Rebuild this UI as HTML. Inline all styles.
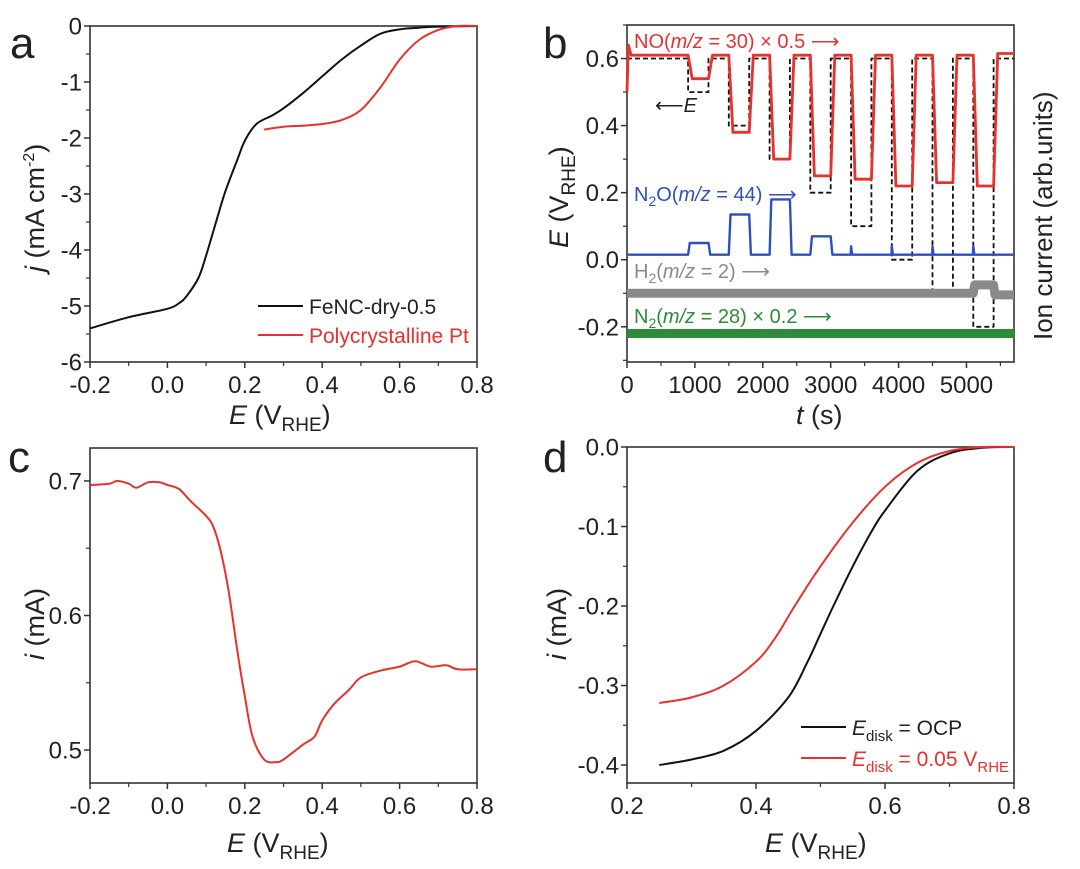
<!DOCTYPE html>
<html><head><meta charset="utf-8"><style>
body{margin:0;background:#fff;}
svg{display:block;font-family:"Liberation Sans",Arial,sans-serif;}
</style></head><body>
<svg id="fig" width="1080" height="869" viewBox="0 0 1080 869" xmlns="http://www.w3.org/2000/svg"></svg>
<script>
// ---- Panel a data ----
const aBlackE=[-0.2,-0.1,0,0.03,0.05,0.08,0.1,0.13,0.15,0.18,0.2,0.23,0.27,0.3,0.35,0.4,0.45,0.5,0.55,0.6,0.65,0.7,0.8];
const aBlackJ=[-5.4,-5.2,-5.05,-4.95,-4.82,-4.5,-4.1,-3.4,-2.95,-2.4,-2.05,-1.75,-1.6,-1.47,-1.2,-0.9,-0.6,-0.35,-0.14,-0.06,-0.03,-0.01,0];
const aRedE=[0.25,0.3,0.35,0.4,0.45,0.5,0.55,0.6,0.65,0.7,0.75,0.8];
const aRedJ=[-1.85,-1.8,-1.78,-1.75,-1.68,-1.5,-1.1,-0.6,-0.25,-0.07,0,0];
const aXTicks=[-0.2,0,0.2,0.4,0.6,0.8];
const aXLabels=["-0.2","0.0","0.2","0.4","0.6","0.8"];
const aYTicks=[0,-1,-2,-3,-4,-5,-6];
const aYLabels=["0","-1","-2","-3","-4","-5","-6"];
// ---- Panel b data ----
const bStepStart=[0,900,1200,1500,1800,2100,2400,2700,3000,3300,3600,3900,4200,4500,4800,5100,5400];
const bE=[0.6,0.5,0.6,0.4,0.6,0.3,0.6,0.2,0.6,0.1,0.6,0.0,0.6,-0.1,0.6,-0.2,0.6];
const bNO=[0.61,0.54,0.61,0.38,0.61,0.30,0.61,0.25,0.61,0.24,0.61,0.22,0.61,0.23,0.61,0.22,0.615];
const bN2O=[0.015,0.05,0.015,0.135,0.015,0.18,0.015,0.07,0.015,0.015,0.015,0.015,0.015,0.015,0.015,0.015,0.015];
const bN2OSpikeT=[3300,3900,4500,5100];
const bN2OSpikeV=[0.04,0.04,0.04,0.04];
const bH2=[-0.10,-0.10,-0.10,-0.10,-0.10,-0.10,-0.10,-0.10,-0.10,-0.10,-0.10,-0.10,-0.10,-0.10,-0.10,-0.075,-0.105];
const bN2=[-0.22,-0.22,-0.22,-0.22,-0.22,-0.22,-0.22,-0.22,-0.22,-0.22,-0.22,-0.22,-0.22,-0.22,-0.22,-0.22,-0.22];
const bXTicks=[0,1000,2000,3000,4000,5000];
const bYTicks=[0.6,0.4,0.2,0.0,-0.2];
const bYLabels=["0.6","0.4","0.2","0.0","-0.2"];
// ---- Panel c data ----
const cE=[-0.2,-0.15,-0.13,-0.1,-0.08,-0.05,-0.02,0,0.03,0.06,0.1,0.12,0.14,0.16,0.18,0.2,0.22,0.25,0.28,0.3,0.35,0.38,0.4,0.43,0.47,0.5,0.55,0.6,0.64,0.68,0.72,0.75,0.8];
const cI=[0.697,0.698,0.700,0.698,0.695,0.699,0.699,0.697,0.694,0.685,0.674,0.665,0.645,0.615,0.575,0.54,0.51,0.493,0.491,0.493,0.504,0.51,0.522,0.534,0.545,0.554,0.559,0.562,0.566,0.562,0.563,0.560,0.560];
const cYTicks=[0.7,0.6,0.5];
const cYLabels=["0.7","0.6","0.5"];
// ---- Panel d data ----
const dE=[0.25,0.3,0.35,0.4,0.45,0.48,0.5,0.52,0.55,0.58,0.6,0.65,0.7,0.75,0.8];
const dBlack=[-0.40,-0.393,-0.382,-0.357,-0.315,-0.27,-0.235,-0.2,-0.15,-0.105,-0.08,-0.03,-0.008,-0.001,0];
const dRedE=[0.25,0.3,0.35,0.4,0.43,0.46,0.5,0.55,0.6,0.65,0.7,0.75,0.8];
const dRed=[-0.322,-0.315,-0.3,-0.27,-0.24,-0.2,-0.15,-0.095,-0.05,-0.02,-0.005,0,0];
const dXTicks=[0.2,0.4,0.6,0.8];
const dYTicks=[0,-0.1,-0.2,-0.3,-0.4];
const dYLabels=["0.0","-0.1","-0.2","-0.3","-0.4"];

const NS="http://www.w3.org/2000/svg";
const svg=document.getElementById('fig');
function mk(tag,attrs,parent,text){const e=document.createElementNS(NS,tag);for(const k in attrs)e.setAttribute(k,attrs[k]);if(text!==undefined)e.textContent=text;(parent||svg).appendChild(e);return e;}
function scale(d0,d1,r0,r1){return v=>r0+(v-d0)/(d1-d0)*(r1-r0);}
function panel(name,x0,x1,y0,y1,xd,yd){
  const g=mk('g',{});
  
  
  const box=mk('rect',{x:x0,y:y0,width:x1-x0,height:y1-y0,fill:'none',stroke:'#333','stroke-width':1.6},g);
  
  
  return {g,X:scale(xd[0],xd[1],x0,x1),Y:scale(yd[0],yd[1],y1,y0),x0,x1,y0,y1};
}
function xAxis(p,ticks,labels,minor){
  const ax=mk('g',{},p.g);
  
  
  ticks.forEach((t,i)=>{const x=p.X(t);mk('line',{x1:x,x2:x,y1:p.y1,y2:p.y1+6,stroke:'#333','stroke-width':1.5},ax);
    const tx=mk('text',{x:x,y:p.y1+31,'text-anchor':'middle','font-size':24,fill:'#222'},ax,labels[i]);
    
    });
  (minor||[]).forEach(t=>{const x=p.X(t);mk('line',{x1:x,x2:x,y1:p.y1,y2:p.y1+4,stroke:'#333','stroke-width':1.2},ax);});
}
function yAxis(p,ticks,labels,minor){
  const ax=mk('g',{},p.g);
  
  
  ticks.forEach((t,i)=>{const y=p.Y(t);mk('line',{x1:p.x0-6,x2:p.x0,y1:y,y2:y,stroke:'#333','stroke-width':1.5},ax);
    const tx=mk('text',{x:p.x0-8,y:y+8.5,'text-anchor':'end','font-size':24,fill:'#222'},ax,labels[i]);
    
    });
  (minor||[]).forEach(t=>{const y=p.Y(t);mk('line',{x1:p.x0-4,x2:p.x0,y1:y,y2:y,stroke:'#333','stroke-width':1.2},ax);});
}
function pathD(pts,smooth){
  if(!smooth)return pts.map((q,i)=>(i?'L':'M')+q[0].toFixed(1)+','+q[1].toFixed(1)).join('');
  let d='M'+pts[0][0].toFixed(1)+','+pts[0][1].toFixed(1);
  for(let i=0;i<pts.length-1;i++){
    const p0=pts[i-1]||pts[i],p1=pts[i],p2=pts[i+1],p3=pts[i+2]||p2;
    const c1=[p1[0]+(p2[0]-p0[0])/6,p1[1]+(p2[1]-p0[1])/6];
    const c2=[p2[0]-(p3[0]-p1[0])/6,p2[1]-(p3[1]-p1[1])/6];
    d+='C'+c1.map(v=>v.toFixed(1)).join(',')+' '+c2.map(v=>v.toFixed(1)).join(',')+' '+p2[0].toFixed(1)+','+p2[1].toFixed(1);
  }
  return d;
}
function line(p,xs,ys,color,w,name,dash,smooth){
  const pts=xs.map((x,i)=>[p.X(x),p.Y(ys[i])]);
  const e=mk('path',{d:pathD(pts,smooth),fill:'none',stroke:color,'stroke-width':w,'stroke-linejoin':'round','stroke-linecap':'butt'},p.g);
  if(dash)e.setAttribute('stroke-dasharray',dash);
  
  
  return e;
}
function label(html,x,y,size,attrs,name){
  const t=mk('text',Object.assign({x:x,y:y,'font-size':size,fill:'#222'},attrs||{}));
  t.innerHTML=html;
  
  
  return t;
}
function range(a,b,s){const r=[];for(let v=a;v<=b+1e-9;v+=s)r.push(+v.toFixed(4));return r;}
const xTitle='<tspan font-style="italic">E</tspan> (V<tspan font-size="19" dy="7">RHE</tspan><tspan dy="-7">)</tspan>';

// ---- Panel a ----
const pa=panel('panel-a',90,477,26,362,[-0.2,0.8],[-6,0]);
xAxis(pa,aXTicks,aXLabels,range(-0.1,0.7,0.2));
yAxis(pa,aYTicks,aYLabels,range(-5.5,-0.5,1));
line(pa,aBlackE,aBlackJ,'#111',2,'fenc-curve',null,true);
line(pa,aRedE,aRedJ,'#e8312d',2,'pt-curve',null,true);
label('a',10,58,44,{},'panel-label-a');
label(xTitle,229,424,27,{},'x-axis-title-a');
label('<tspan font-style="italic">j</tspan> (mA cm<tspan font-size="16" dy="-10">-2</tspan><tspan dy="10">)</tspan>',0,0,27,{transform:'translate(44,272) rotate(-90)'},'y-axis-title-a');
mk('line',{x1:258,x2:303,y1:306,y2:306,stroke:'#111','stroke-width':2});
label('FeNC-dry-0.5',309,314,21,{},'legend-fenc');
mk('line',{x1:258,x2:303,y1:335,y2:335,stroke:'#e8312d','stroke-width':2});
label('Polycrystalline Pt',309,343,21,{fill:'#e8312d'},'legend-pt');

// ---- Panel b ----
const pb=panel('panel-b',627,1014,25,362,[0,5700],[-0.305,0.70]);
xAxis(pb,bXTicks,bXTicks.map(String),range(500,5500,1000));
yAxis(pb,bYTicks,bYLabels,range(-0.3,0.7,0.2).filter(v=>v>-0.31));
function stepSeries(levels,ramp){const xs=[],ys=[];
  bStepStart.forEach((t,i)=>{const end=i+1<bStepStart.length?bStepStart[i+1]:5700;
    xs.push(t+(i?ramp:0));ys.push(levels[i]);xs.push(end);ys.push(levels[i]);});return [xs,ys];}
let s=stepSeries(bE,0);line(pb,s[0],s[1],'#111',1.8,'potential-step-line','5,3');
s=stepSeries(bN2,20);line(pb,s[0],s[1],'#2e8b3a',9,'n2-signal');
s=stepSeries(bH2,20);line(pb,s[0],s[1],'#8a8a8a',9,'h2-signal');
s=stepSeries(bN2O,25);
bN2OSpikeT.forEach((t,k)=>{const idx=s[0].findIndex(x=>x>t);s[0].splice(idx,0,t-5,t,t+15);s[1].splice(idx,0,bN2O[0],bN2OSpikeV[k],bN2O[0]);});
line(pb,s[0],s[1],'#2d50c0',2.4,'n2o-signal');
s=stepSeries(bNO,60);s[0].splice(0,1,0,20,60);s[1].splice(0,1,0.5,0.64,0.61);
line(pb,s[0],s[1],'#e8312d',2.8,'no-signal');
label('b',543,58,44,{},'panel-label-b');
label('<tspan font-style="italic">t</tspan> (s)',796,424,27,{},'x-axis-title-b');
label('<tspan font-style="italic">E</tspan> (V<tspan font-size="19" dy="7">RHE</tspan><tspan dy="-7">)</tspan>',0,0,27,{transform:'translate(568,248) rotate(-90)'},'y-axis-title-b');
label('Ion current (arb.units)',0,0,26,{transform:'translate(1052,340) rotate(-90)'},'right-axis-title-b');
label('NO(<tspan font-style="italic">m/z</tspan> = 30) × 0.5 ⟶',634,48,20,{fill:'#e8312d'},'label-no');
label('⟵<tspan font-style="italic">E</tspan>',655,112,20,{},'label-e');
label('N<tspan font-size="14" dy="5">2</tspan><tspan dy="-5">O(</tspan><tspan font-style="italic">m/z</tspan> = 44) ⟶',634,201,20,{fill:'#2d50c0'},'label-n2o');
label('H<tspan font-size="14" dy="5">2</tspan><tspan dy="-5">(</tspan><tspan font-style="italic">m/z</tspan> = 2) ⟶',634,278,20,{fill:'#8a8a8a'},'label-h2');
label('N<tspan font-size="14" dy="5">2</tspan><tspan dy="-5">(</tspan><tspan font-style="italic">m/z</tspan> = 28) × 0.2 ⟶',634,323,20,{fill:'#2e8b3a'},'label-n2');

// ---- Panel c ----
const pc=panel('panel-c',90,477,448,783,[-0.2,0.8],[0.4755,0.7245]);
xAxis(pc,aXTicks,aXLabels,range(-0.1,0.7,0.2));
yAxis(pc,cYTicks,cYLabels,[0.65,0.55]);
line(pc,cE,cI,'#e8312d',2,'ring-current-curve',null,true);
label('c',8,472,44,{},'panel-label-c');
label(xTitle,227,852,27,{},'x-axis-title-c');
label('<tspan font-style="italic">i</tspan> (mA)',0,0,27,{transform:'translate(44,660) rotate(-90)'},'y-axis-title-c');

// ---- Panel d ----
const pd=panel('panel-d',627,1014,447,783,[0.2,0.8],[-0.4226,0]);
xAxis(pd,dXTicks,["0.2","0.4","0.6","0.8"],[0.3,0.5,0.7]);
yAxis(pd,dYTicks,dYLabels,[-0.05,-0.15,-0.25,-0.35]);
line(pd,dE,dBlack,'#111',2,'ocp-curve',null,true);
line(pd,dRedE,dRed,'#e8312d',2,'disk-005-curve',null,true);
label('d',543,472,44,{},'panel-label-d');
label(xTitle,765,852,27,{},'x-axis-title-d');
label('<tspan font-style="italic">i</tspan> (mA)',0,0,27,{transform:'translate(566,660) rotate(-90)'},'y-axis-title-d');
mk('line',{x1:801,x2:846,y1:727,y2:727,stroke:'#111','stroke-width':2});
label('<tspan font-style="italic">E</tspan><tspan font-size="15" dy="6">disk</tspan><tspan dy="-6"> = OCP</tspan>',852,735,21,{},'legend-ocp');
mk('line',{x1:801,x2:846,y1:758,y2:758,stroke:'#e8312d','stroke-width':2});
label('<tspan font-style="italic">E</tspan><tspan font-size="15" dy="6">disk</tspan><tspan dy="-6"> = 0.05 V</tspan><tspan font-size="15" dy="6">RHE</tspan>',852,766,21,{fill:'#e8312d'},'legend-005');
</script>
</body></html>
